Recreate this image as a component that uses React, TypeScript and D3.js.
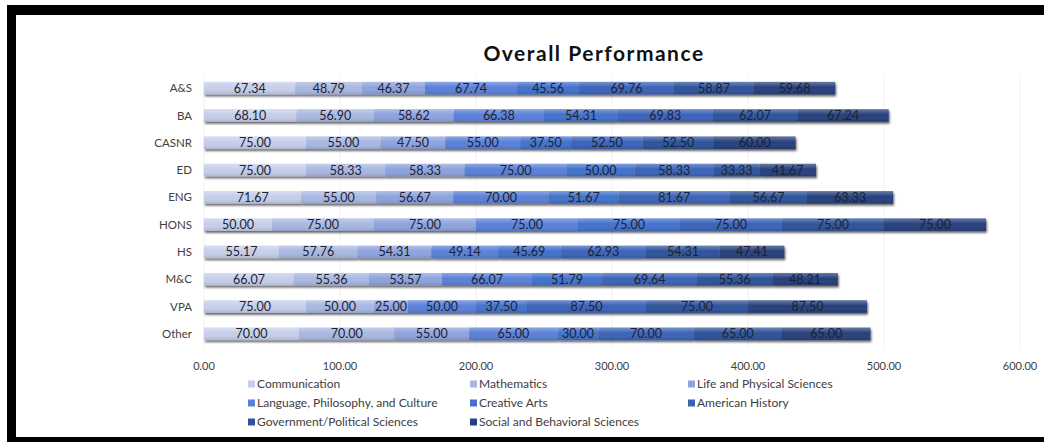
import React from 'react'
import { scaleLinear, scaleBand, stack } from 'd3'

const colleges = ['A&S', 'BA', 'CASNR', 'ED', 'ENG', 'HONS', 'HS', 'M&C', 'VPA', 'Other']

const subjects = [
  'Communication',
  'Mathematics',
  'Life and Physical Sciences',
  'Language, Philosophy, and Culture',
  'Creative Arts',
  'American History',
  'Government/Political Sciences',
  'Social and Behavioral Sciences'
]

// one array per subject, values in college order
const communication = [67.34, 68.1, 75.0, 75.0, 71.67, 50.0, 55.17, 66.07, 75.0, 70.0]
const mathematics = [48.79, 56.9, 55.0, 58.33, 55.0, 75.0, 57.76, 55.36, 50.0, 70.0]
const lifeSciences = [46.37, 58.62, 47.5, 58.33, 56.67, 75.0, 54.31, 53.57, 25.0, 55.0]
const language = [67.74, 66.38, 55.0, 75.0, 70.0, 75.0, 49.14, 66.07, 50.0, 65.0]
const creativeArts = [45.56, 54.31, 37.5, 50.0, 51.67, 75.0, 45.69, 51.79, 37.5, 30.0]
const americanHistory = [69.76, 69.83, 52.5, 58.33, 81.67, 75.0, 62.93, 69.64, 87.5, 70.0]
const government = [58.87, 62.07, 52.5, 33.33, 56.67, 75.0, 54.31, 55.36, 75.0, 65.0]
const socialSciences = [59.68, 67.24, 60.0, 41.67, 63.33, 75.0, 47.41, 48.21, 87.5, 65.0]

const series = [communication, mathematics, lifeSciences, language, creativeArts, americanHistory, government, socialSciences]

const xTicks = [0, 100, 200, 300, 400, 500, 600]

const colors = ['#c6cfea', '#a9b8e2', '#8ea3dd', '#5a80d8', '#4372cc', '#3a63b8', '#2f529a', '#26407c']

const W = 1044
const H = 442
const FONT = 'Lato, "Open Sans", sans-serif'

export default function App() {
  const x = scaleLinear().domain([0, 600]).range([204, 1020])
  const y = scaleBand().domain(colleges).range([74.5, 347.5]).paddingInner(0.54).paddingOuter(0.27)

  const rows = colleges.map((c, i) => {
    const r: Record<string, number | string> = { college: c }
    subjects.forEach((s, j) => (r[s] = series[j][i]))
    return r
  })
  const layers = stack<any>().keys(subjects)(rows)

  return (
    <svg width={W} height={H} style={{ position: 'absolute', left: 0, top: 0, background: '#fff' }} fontFamily={FONT}>
      <defs>
        <filter id="shadow" x="-5%" y="-50%" width="110%" height="250%">
          <feDropShadow dx={1} dy={2} stdDeviation={1.2} floodColor="#000" floodOpacity={0.6} />
        </filter>
        <linearGradient id="sheen" x1={0} x2={0} y1={0} y2={1}>
          <stop offset="0%" stopColor="#fff" stopOpacity={0.3} />
          <stop offset="45%" stopColor="#fff" stopOpacity={0} />
          <stop offset="100%" stopColor="#000" stopOpacity={0.12} />
        </linearGradient>
      </defs>

      {/* frame */}
      <rect x={7} y={5} width={W - 7} height={10} fill="#000" />
      <rect x={7} y={5} width={9} height={433} fill="#000" />
      <rect x={7} y={437} width={W - 7} height={5} fill="#000" />

      <text x={594} y={61} textAnchor="middle" fontSize={21} fontWeight={700} letterSpacing={1.5} fill="#111">
        Overall Performance
      </text>

      <g className="grid">
        {xTicks.map((t) => (
          <line key={t} x1={x(t)} x2={x(t)} y1={74} y2={350} stroke="#f2f2f2" strokeWidth={1} />
        ))}
      </g>

      <g className="bars">
        {colleges.map((c, i) => {
          const y0 = y(c)!
          const bh = y.bandwidth()
          const total = layers[layers.length - 1][i][1]
          return (
            <g key={c}>
              <g filter="url(#shadow)">
                {layers.map((layer, j) => (
                  <rect key={j} x={x(layer[i][0])} y={y0} width={x(layer[i][1]) - x(layer[i][0])} height={bh} fill={colors[j]} />
                ))}
              </g>
              <rect x={x(0)} y={y0} width={x(total) - x(0)} height={bh} fill="url(#sheen)" />
              {layers.map((layer, j) => (
                <text
                  key={j}
                  x={(x(layer[i][0]) + x(layer[i][1])) / 2}
                  y={y0 + bh / 2}
                  dy="0.36em"
                  textAnchor="middle"
                  fontSize={12.5}
                  fill="#1c2233"
                >
                  {(layer[i][1] - layer[i][0]).toFixed(2)}
                </text>
              ))}
              <text x={192} y={y0 + bh / 2} dy="0.36em" textAnchor="end" fontSize={11.5} fill="#404040">
                {c}
              </text>
            </g>
          )
        })}
      </g>

      <g className="axis">
        {xTicks.map((t) => (
          <text key={t} x={x(t)} y={366} dy="0.36em" textAnchor="middle" fontSize={11} fill="#404040">
            {t.toFixed(2)}
          </text>
        ))}
      </g>

      <g className="legend">
        {subjects.map((s, j) => {
          const col = j % 3
          const row = Math.floor(j / 3)
          const lx = [248, 470, 688][col]
          const ly = 384 + row * 19
          return (
            <g key={s} transform={`translate(${lx},${ly})`}>
              <rect x={0} y={-3.5} width={7} height={7} fill={colors[j]} />
              <text x={9} y={0} dy="0.36em" fontSize={12} fill="#404040">
                {s}
              </text>
            </g>
          )
        })}
      </g>
    </svg>
  )
}
